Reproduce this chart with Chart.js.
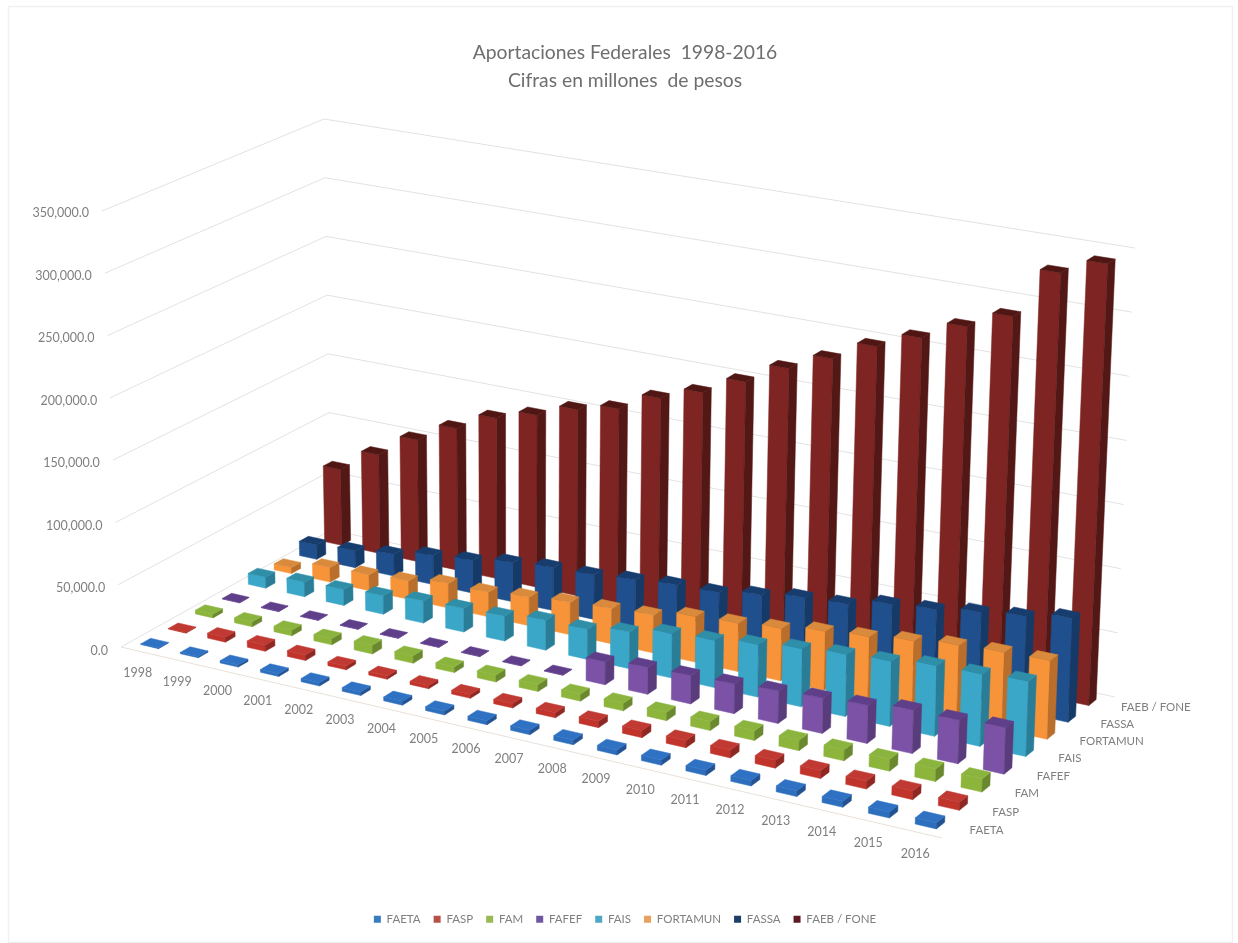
<!DOCTYPE html>
<html>
<head>
<meta charset="utf-8">
<title>Aportaciones Federales 1998-2016</title>
<style>
  html, body { margin: 0; padding: 0; background: #fff; }
  canvas { display: block; }
</style>
<script src="https://cdn.jsdelivr.net/npm/chart.js@4/dist/chart.umd.js"></script>
</head>
<body>
<canvas id="chart" width="1238" height="943"></canvas>
<script>
"use strict";

/* ─── Data (millones de pesos) ──────────────────────────────── */

const YEARS = ["1998", "1999", "2000", "2001", "2002", "2003", "2004", "2005", "2006", "2007",
  "2008", "2009", "2010", "2011", "2012", "2013", "2014", "2015", "2016"];

const SERIES_NAMES = ["FAETA", "FASP", "FAM", "FAFEF", "FAIS", "FORTAMUN", "FASSA", "FAEB / FONE"];

const FAETA = [500, 1000, 1800, 2200, 2500, 2800, 3000, 3000, 3200, 3400, 3600, 3800, 4000, 4000, 4200, 4400, 4500, 4500, 4600];
const FASP = [500, 4000, 5000, 4500, 3000, 2500, 2500, 3000, 3500, 4000, 5000, 5500, 5500, 6000, 6000, 6000, 6000, 6500, 6000];
const FAM = [3000, 4000, 4500, 5000, 7000, 6000, 4500, 5500, 5500, 5500, 6000, 6500, 7000, 7500, 8000, 8500, 9000, 9500, 10000];
const FAFEF = [300, 300, 300, 300, 300, 300, 300, 300, 300, 18000, 21000, 22000, 23000, 25000, 27000, 29000, 33000, 33000, 35000];
const FAIS = [9000, 12000, 13000, 15000, 18000, 19000, 20000, 24000, 24000, 29000, 35000, 37000, 41000, 45000, 48000, 50000, 54000, 55000, 57000];
const FORTAMUN = [5000, 12000, 13000, 15000, 20000, 20000, 23000, 26000, 28000, 30000, 36000, 38000, 41000, 46000, 49000, 53000, 57000, 59000, 60000];
const FASSA = [12000, 14000, 18000, 24000, 27000, 32000, 35000, 36000, 39000, 42000, 43000, 48000, 53000, 55000, 62000, 65000, 70000, 74000, 80000];
const FAEB = [64000, 83000, 102000, 118000, 133000, 142000, 153000, 160000, 175000, 186000, 201000, 218000, 232000, 248000, 261000, 276000, 290000, 330000, 343000];

const SERIES_VALUES = [FAETA, FASP, FAM, FAFEF, FAIS, FORTAMUN, FASSA, FAEB];

const Y_MAX = 350000;
const Y_STEP = 50000;

/* ─── Colours per series ────────────────────────────────────── */

const FRONT_COLORS = ["#2e6fbd", "#c0342c", "#8db53c", "#7b52a6", "#3aa6c8", "#f7943a", "#1f4f8c", "#7e2523"];
const SIDE_COLORS = ["#225291", "#8f2722", "#6a882d", "#5a3b7b", "#2a7d96", "#b96f2b", "#163a68", "#531816"];
const TOP_COLORS = ["#2f72c4", "#c03a33", "#8ab43e", "#5f3f8a", "#2f8fa9", "#d98a3c", "#173d6e", "#4f1613"];
const LEGEND_COLORS = ["#3a7cc0", "#b8504a", "#98b954", "#6f58a0", "#4ea8c4", "#e6a060", "#1f3f6b", "#5e1a22"];

const TEXT_COLOR = "#7f7f7f";
const GRID_COLOR = "#e2e2e2";
const FONT_FAMILY = "Lato, 'Open Sans', sans-serif";

/* ─── Camera ────────────────────────────────────────────────── */

/* Plot box corners on screen: front-left, front-right, back-right, back-left */
const FLOOR_CORNERS = [[121, 647], [942, 838], [1115, 697], [331, 530]];
const CEILING_CORNERS = [[102, 211], [957, 359], [1135, 248], [324, 119]];

/* Share of a category cell taken by a bar, along the years and along the series */
const BAR_WIDTH = 0.45;
const BAR_DEPTH = 0.36;

/*
 * Builds the homography taking the unit square onto a quad.
 * @param {Array} quad - four [x, y] corners
 * @returns {Function} (u, w) => [x, y]
 */
function squareToQuad(quad) {
  const [[x0, y0], [x1, y1], [x2, y2], [x3, y3]] = quad;
  const dx1 = x1 - x2, dx2 = x3 - x2, sx = x0 - x1 + x2 - x3;
  const dy1 = y1 - y2, dy2 = y3 - y2, sy = y0 - y1 + y2 - y3;
  const den = dx1 * dy2 - dx2 * dy1;
  const g = (sx * dy2 - dx2 * sy) / den;
  const h = (dx1 * sy - sx * dy1) / den;
  const a = x1 - x0 + g * x1, b = x3 - x0 + h * x3;
  const d = y1 - y0 + g * y1, e = y3 - y0 + h * y3;
  return function (u, w) {
    const q = g * u + h * w + 1;
    return [(a * u + b * w + x0) / q, (d * u + e * w + y0) / q];
  };
}

const floorMap = squareToQuad(FLOOR_CORNERS);
const ceilingMap = squareToQuad(CEILING_CORNERS);

/*
 * Projects a point of the plot box to the screen.
 * u runs along the years, w along the series, both 0..1; the height comes from the y scale.
 */
function project(chart, u, w, value) {
  const yScale = chart.scales.y;
  const t = (yScale.bottom - yScale.getPixelForValue(value)) / (yScale.bottom - yScale.top);
  const f = floorMap(u, w);
  const c = ceilingMap(u, w);
  return { x: f[0] + (c[0] - f[0]) * t, y: f[1] + (c[1] - f[1]) * t };
}

/* Centre of a year's cell along the x scale, as a 0..1 fraction */
function yearFraction(chart, index) {
  const xScale = chart.scales.x;
  return (xScale.getPixelForValue(index) - xScale.left) / xScale.width;
}

/* Same for a series */
function seriesFraction(chart, index) {
  const depthScale = chart.scales.depth;
  return (depthScale.getPixelForValue(index) - depthScale.left) / depthScale.width;
}

/* ─── Scales with slanted tick labels ───────────────────────── */

class SlantedValueScale extends Chart.LinearScale {
  static id = "slantedValue";
  static defaults = {};

  /* Labels leave the axis box, so no clipping to it */
  _computeLabelArea() {
    return undefined;
  }

  _computeLabelItems(area) {
    const items = super._computeLabelItems(area);
    items.forEach((item, k) => {
      const p = project(this.chart, 0, 0, this.ticks[k].value);
      item.options.translation = [p.x - 13, item.options.translation[1]];
    });
    return items;
  }
}

class SlantedCategoryScale extends Chart.CategoryScale {
  static id = "slantedCategory";
  static defaults = {};

  _computeLabelArea() {
    return undefined;
  }

  _computeLabelItems(area) {
    const items = super._computeLabelItems(area);
    const isDepth = this.id === "depth";
    items.forEach((item, k) => {
      let p;
      if (isDepth) {
        p = project(this.chart, 1, seriesFraction(this.chart, k), 0);
        item.options.translation = [p.x + 16, p.y + 2];
        item.options.textAlign = "left";
      } else {
        p = project(this.chart, yearFraction(this.chart, k), 0, 0);
        item.options.translation = [p.x - 3, p.y + 21];
        item.options.textAlign = "center";
      }
      item.options.textBaseline = "middle";
      item.textOffset = 0;
    });
    return items;
  }
}

/* ─── 3D bar controller ─────────────────────────────────────── */

/* Fills one projected polygon */
function fillFace(ctx, points, color) {
  ctx.beginPath();
  ctx.moveTo(points[0].x, points[0].y);
  for (let i = 1; i < points.length; i++) {
    ctx.lineTo(points[i].x, points[i].y);
  }
  ctx.closePath();
  ctx.fillStyle = color;
  ctx.strokeStyle = color;
  ctx.lineWidth = 0.5;
  ctx.fill();
  ctx.stroke();
}

class Bar3dController extends Chart.BarController {
  static id = "bar3d";
  static defaults = Chart.BarController.defaults;

  draw() {
    const chart = this.chart;
    const ctx = chart.ctx;
    const s = this.index;
    const values = this.getDataset().data;
    const w = seriesFraction(chart, s);
    const halfU = BAR_WIDTH / 2 / YEARS.length;
    const halfW = BAR_DEPTH / 2 / SERIES_NAMES.length;

    /* Years run towards the viewer, so later bars paint over earlier ones */
    values.forEach(function (value, i) {
      const u = yearFraction(chart, i);
      const u0 = u - halfU, u1 = u + halfU;
      const w0 = w - halfW, w1 = w + halfW;
      const frontLow = project(chart, u0, w0, 0);
      const cornerLow = project(chart, u1, w0, 0);
      const backLow = project(chart, u1, w1, 0);
      const frontHigh = project(chart, u0, w0, value);
      const cornerHigh = project(chart, u1, w0, value);
      const backHigh = project(chart, u1, w1, value);
      const farHigh = project(chart, u0, w1, value);

      fillFace(ctx, [frontLow, cornerLow, cornerHigh, frontHigh], FRONT_COLORS[s]);
      fillFace(ctx, [cornerLow, backLow, backHigh, cornerHigh], SIDE_COLORS[s]);
      fillFace(ctx, [frontHigh, cornerHigh, backHigh, farHigh], TOP_COLORS[s]);
    });
  }
}

Chart.register(SlantedValueScale, SlantedCategoryScale, Bar3dController);

/* ─── Plugins ───────────────────────────────────────────────── */

/* Draws the chart frame and the gridlines on the two walls */
const wallsPlugin = {
  id: "walls",
  beforeDatasetsDraw: function (chart) {
    const ctx = chart.ctx;
    ctx.save();

    ctx.strokeStyle = "#f1f1f1";
    ctx.lineWidth = 1.5;
    ctx.strokeRect(8.5, 6.5, 1224, 936);

    ctx.strokeStyle = GRID_COLOR;
    ctx.lineWidth = 1;
    chart.scales.y.ticks.forEach(function (tick) {
      const a = project(chart, 0, 0, tick.value);
      const b = project(chart, 0, 1, tick.value);
      const c = project(chart, 1, 1, tick.value);
      ctx.beginPath();
      ctx.moveTo(a.x, a.y);
      ctx.lineTo(b.x, b.y);
      ctx.lineTo(c.x, c.y);
      ctx.stroke();
    });

    /* Front edge of the floor */
    const start = project(chart, 0, 0, 0);
    const end = project(chart, 1, 0, 0);
    ctx.strokeStyle = "#e8e0d8";
    ctx.beginPath();
    ctx.moveTo(start.x, start.y);
    ctx.lineTo(end.x, end.y);
    ctx.stroke();

    ctx.restore();
  },
};

/* ─── Chart ─────────────────────────────────────────────────── */

const datasets = SERIES_NAMES.map(function (name, s) {
  return {
    label: name,
    data: SERIES_VALUES[s],
    backgroundColor: LEGEND_COLORS[s],
    borderWidth: 0,
    clip: false,
  };
});

const tickFont = { family: FONT_FAMILY, size: 12.5 };

new Chart(document.getElementById("chart"), {
  type: "bar3d",
  data: { labels: YEARS, datasets: datasets },
  plugins: [wallsPlugin],
  options: {
    responsive: false,
    animation: false,
    layout: { padding: { left: 12, bottom: 8 } },
    scales: {
      x: {
        type: "slantedCategory",
        position: "bottom",
        grid: { display: false },
        border: { display: false },
        ticks: { color: TEXT_COLOR, font: tickFont, autoSkip: false, maxRotation: 0, minRotation: 0 },
        afterFit: function (scale) { scale.height = 250; },
      },
      depth: {
        type: "slantedCategory",
        axis: "x",
        position: "bottom",
        labels: SERIES_NAMES,
        grid: { display: false },
        border: { display: false },
        ticks: { color: TEXT_COLOR, font: { family: FONT_FAMILY, size: 11.5 }, autoSkip: false, maxRotation: 0, minRotation: 0 },
        afterFit: function (scale) { scale.height = 0; },
      },
      y: {
        type: "slantedValue",
        position: "left",
        min: 0,
        max: Y_MAX,
        grid: { display: false },
        border: { display: false },
        ticks: {
          stepSize: Y_STEP,
          color: TEXT_COLOR,
          font: tickFont,
          callback: function (value) {
            return value.toLocaleString("en-US", { minimumFractionDigits: 1 });
          },
        },
        afterFit: function (scale) { scale.width = 88; },
      },
    },
    plugins: {
      title: {
        display: true,
        text: ["Aportaciones Federales  1998-2016", "Cifras en millones  de pesos"],
        color: "#6e6e6e",
        font: { family: FONT_FAMILY, size: 19.3, weight: "normal", lineHeight: 1.45 },
        padding: { top: 39, bottom: 118 },
      },
      legend: {
        position: "bottom",
        labels: {
          color: TEXT_COLOR,
          font: { family: FONT_FAMILY, size: 11.5 },
          boxWidth: 7,
          boxHeight: 7,
          padding: 13,
        },
      },
      tooltip: { enabled: false },
    },
  },
});
</script>
</body>
</html>
